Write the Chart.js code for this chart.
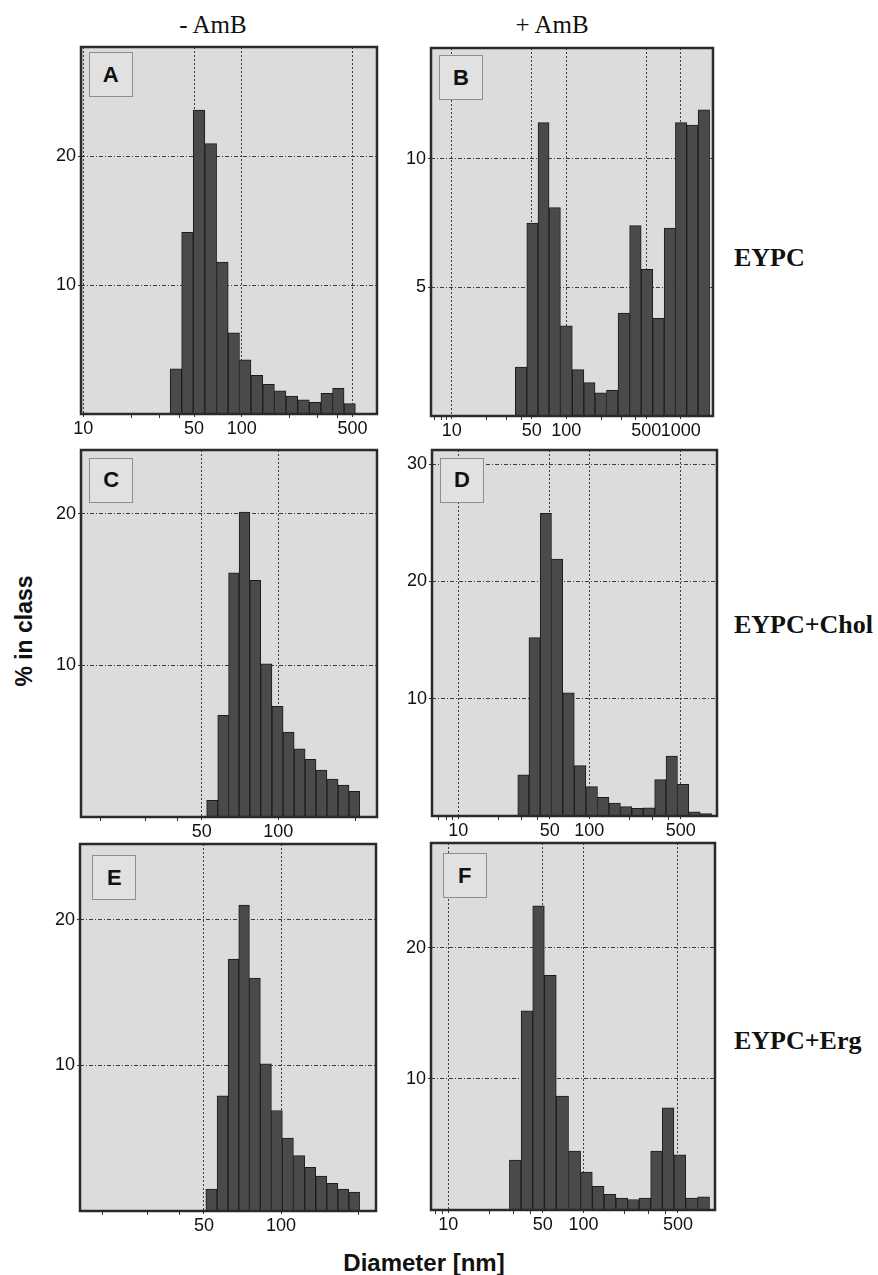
<!DOCTYPE html>
<html><head><meta charset="utf-8">
<script src="https://cdn.jsdelivr.net/npm/chart.js@4.4.0/dist/chart.umd.min.js"></script>
<style>
html,body{margin:0;padding:0;background:#fff;}
body{width:878px;height:1275px;position:relative;overflow:hidden;}
canvas{position:absolute;}
.lbl{position:absolute;white-space:nowrap;color:#111;}
.serif{font-family:"Liberation Serif","DejaVu Serif",serif;}
.sans{font-family:"Liberation Sans",Arial,sans-serif;font-weight:bold;}
.box{position:absolute;width:44px;height:45px;border:1.5px solid #8e8e8e;background:#e1e1e1;
 font:bold 22px "Liberation Sans",Arial,sans-serif;display:flex;align-items:center;justify-content:center;color:#111;box-sizing:border-box;}
</style></head><body>

<div class="lbl serif" style="left:213px;top:12px;font-size:25px;line-height:25px;transform:translateX(-50%);">- AmB</div>
<div class="lbl serif" style="left:552px;top:12px;font-size:25px;line-height:25px;transform:translateX(-50%);">+ AmB</div>
<div class="lbl serif" style="left:734px;top:245px;font-size:26px;line-height:26px;font-weight:bold;">EYPC</div>
<div class="lbl serif" style="left:734px;top:612px;font-size:26px;line-height:26px;font-weight:bold;">EYPC+Chol</div>
<div class="lbl serif" style="left:734px;top:1028px;font-size:26px;line-height:26px;font-weight:bold;">EYPC+Erg</div>
<div class="lbl sans" style="left:24px;top:631px;font-size:23px;line-height:23px;transform:translate(-50%,-50%) rotate(-90deg);">% in class</div>
<div class="lbl sans" style="left:424px;top:1251px;font-size:24px;line-height:24px;transform:translateX(-50%);">Diameter [nm]</div>

<script>
// ---- Data (diameter class centres in nm, % in class) ----
// A: EYPC, - AmB
const diamA = [38.4, 45.4, 53.7, 63.7, 75.6, 89.2, 105, 124.5, 148, 174.6, 207, 245.6, 290.2, 344, 407.6, 480.4];
const pctA  = [3.5, 14.1, 23.6, 21.0, 11.8, 6.3, 4.2, 3.0, 2.3, 1.8, 1.4, 1.1, 0.9, 1.6, 2.0, 0.8];
// B: EYPC, + AmB
const diamB = [40.3, 50.8, 63.3, 79.2, 99.9, 127.7, 159, 200, 252, 318.6, 401, 507, 639, 802, 1004, 1261, 1589];
const pctB  = [1.9, 7.5, 11.4, 8.1, 3.5, 1.8, 1.3, 0.9, 1.0, 4.0, 7.4, 5.7, 3.8, 7.3, 11.4, 11.3, 11.9];
// C: EYPC+Chol, - AmB
const diamC = [55.0, 60.8, 66.9, 73.6, 81.1, 89.7, 99.3, 109.8, 121.3, 133.8, 147.7, 163.1, 180.6, 198.8];
const pctC  = [1.1, 6.7, 16.1, 20.1, 15.6, 10.1, 7.3, 5.6, 4.5, 3.8, 3.1, 2.5, 2.1, 1.7];
// D: EYPC+Chol, + AmB
const diamD = [31.4, 38.2, 46.7, 56.8, 69.4, 85.2, 104.6, 128, 156.7, 191.1, 233.8, 286.1, 349.3, 426.4, 522.2, 635.7, 777.9];
const pctD  = [3.5, 15.2, 25.8, 21.9, 10.5, 4.3, 2.5, 1.6, 1.1, 0.8, 0.65, 0.7, 3.1, 5.1, 2.7, 0.35, 0.2];
// E: EYPC+Erg, - AmB
const diamE = [53.5, 59.2, 65.2, 71.7, 79.0, 87.3, 96.4, 106.3, 117.6, 130.1, 143.6, 158.6, 175.3, 193.2];
const pctE  = [1.5, 7.9, 17.3, 21.0, 16.0, 10.1, 6.9, 5.0, 3.8, 3.0, 2.4, 1.9, 1.5, 1.3];
// F: EYPC+Erg, + AmB
const diamF = [31.3, 38.2, 46.5, 56.7, 69.8, 86.2, 105.3, 128.4, 157.1, 192.2, 234.3, 284.3, 347, 423, 515.8, 631.2, 773.7];
const pctF  = [3.8, 15.2, 23.2, 17.9, 8.7, 4.5, 2.9, 1.8, 1.2, 0.9, 0.8, 0.9, 4.5, 7.8, 4.2, 0.9, 1.0];

// ---- Tick labels ----
const xTicksA = [10, 50, 100, 500];
const xTicksB = [10, 50, 100, 500, 1000];
const xTicksC = [50, 100];
const xTicksD = [10, 50, 100, 500];
const xTicksE = [50, 100];
const xTicksF = [10, 50, 100, 500];
const yTicksA = [10, 20];
const yTicksB = [5, 10];
const yTicksC = [10, 20];
const yTicksD = [10, 20, 30];
const yTicksE = [10, 20];
const yTicksF = [10, 20];
const minorTicks = [7, 8, 9, 20, 30, 40, 200, 300, 400];

// ---- Panel layout (page px of plot area) and axis ranges ----
const panels = [
  {letter:'A', x:diamA, y:pctA, xt:xTicksA, yt:yTicksA, xmin:9.67, xmax:714, ymax:28.5, L:81,  T:47,  R:377, B:414,  bx:88.7,  by:52},
  {letter:'B', x:diamB, y:pctB, xt:xTicksB, yt:yTicksB, xmin:6.6,  xmax:1910, ymax:14.3, L:431, T:48,  R:713, B:416,  bx:439,   by:55.3},
  {letter:'C', x:diamC, y:pctC, xt:xTicksC, yt:yTicksC, xmin:16.8, xmax:244, ymax:24.2, L:81,  T:450, R:377, B:817,  bx:89.3,  by:457.7},
  {letter:'D', x:diamD, y:pctD, xt:xTicksD, yt:yTicksD, xmin:6.3,  xmax:946, ymax:31.2, L:432, T:450, R:717, B:816,  bx:440,   by:457.7},
  {letter:'E', x:diamE, y:pctE, xt:xTicksE, yt:yTicksE, xmin:16.4, xmax:235, ymax:25.2, L:80,  T:844, R:376, B:1211, bx:92.3,  by:855},
  {letter:'F', x:diamF, y:pctF, xt:xTicksF, yt:yTicksF, xmin:7.45, xmax:940, ymax:28.0, L:431, T:843, R:715, B:1210, bx:442.7, by:853.3}
];

const ML = 60, MT = 20, MR = 15, MB = 40;

const framePlugin = {
  id: 'frame',
  beforeDraw(chart) {
    const {ctx, chartArea: a} = chart;
    ctx.save();
    ctx.fillStyle = '#dcdcdc';
    ctx.fillRect(a.left, a.top, a.right - a.left, a.bottom - a.top);
    ctx.restore();
  },
  afterDatasetsDraw(chart) {
    const {ctx, chartArea: a, scales} = chart;
    ctx.save();
    ctx.strokeStyle = '#333';
    ctx.lineWidth = 1;
    minorTicks.forEach(v => {
      if (v > scales.x.min && v < scales.x.max) {
        const px = Math.round(scales.x.getPixelForValue(v)) + 0.5;
        ctx.beginPath(); ctx.moveTo(px, a.bottom); ctx.lineTo(px, a.bottom + 4); ctx.stroke();
      }
    });
    ctx.strokeStyle = '#2a2a2a';
    ctx.lineWidth = 2.5;
    ctx.strokeRect(a.left, a.top, a.right - a.left, a.bottom - a.top);
    ctx.restore();
  }
};

Chart.defaults.font.family = "'Liberation Sans', Arial, sans-serif";
Chart.defaults.font.size = 18;
Chart.defaults.color = '#111';

panels.forEach(p => {
  const cv = document.createElement('canvas');
  const w = p.R - p.L + ML + MR, h = p.B - p.T + MT + MB;
  cv.width = w; cv.height = h;
  cv.style.width = w + 'px'; cv.style.height = h + 'px';
  cv.style.left = (p.L - ML) + 'px'; cv.style.top = (p.T - MT) + 'px';
  document.body.appendChild(cv);

  const box = document.createElement('div');
  box.className = 'box';
  box.style.left = p.bx + 'px'; box.style.top = p.by + 'px';
  box.textContent = p.letter;
  document.body.appendChild(box);

  new Chart(cv, {
    type: 'bar',
    data: {
      datasets: [{
        data: p.x.map((d, i) => ({x: d, y: p.y[i]})),
        backgroundColor: '#4a4a4a',
        borderColor: '#1c1c1c',
        borderWidth: 1,
        barThickness: 'flex',
        barPercentage: 1,
        categoryPercentage: 1
      }]
    },
    options: {
      responsive: false,
      animation: false,
      devicePixelRatio: 1,
      layout: {padding: {left: 0, top: MT, right: MR, bottom: 0}},
      plugins: {legend: {display: false}, tooltip: {enabled: false}},
      scales: {
        x: {
          type: 'logarithmic', min: p.xmin, max: p.xmax, offset: false,
          afterBuildTicks: s => { s.ticks = p.xt.map(v => ({value: v})); },
          afterFit: s => { s.height = MB; },
          ticks: {autoSkip: false, maxRotation: 0, padding: 1, callback: v => String(v)},
          grid: {offset: false, color: '#3c3c3c', lineWidth: 1, tickLength: 3, tickBorderDash: [], tickColor: '#333'},
          border: {display: false, dash: [2, 2]}
        },
        y: {
          type: 'linear', min: 0, max: p.ymax,
          afterBuildTicks: s => { s.ticks = p.yt.map(v => ({value: v})); },
          afterFit: s => { s.width = ML; },
          ticks: {autoSkip: false, padding: 2, callback: v => String(v)},
          grid: {color: '#3c3c3c', lineWidth: 1, tickLength: 3, tickBorderDash: [], tickColor: '#333'},
          border: {display: false, dash: [4, 2, 1, 2]}
        }
      }
    },
    plugins: [framePlugin]
  });
});
</script>
</body></html>
